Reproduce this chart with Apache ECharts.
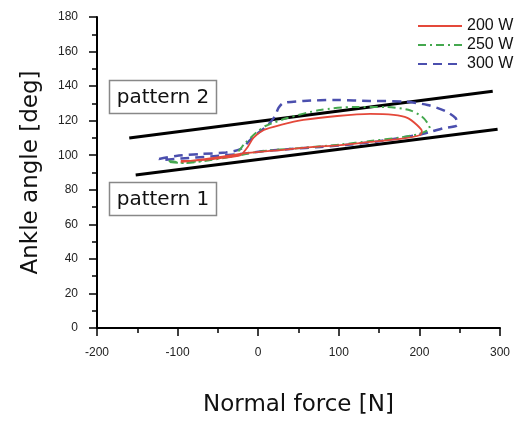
<!DOCTYPE html>
<html>
<head>
<meta charset="utf-8">
<script src="https://cdn.jsdelivr.net/npm/echarts@6/dist/echarts.min.js"></script>
<style>html,body{margin:0;padding:0;background:#fff;}#c{width:523px;height:421px;}</style>
</head>
<body>
<div id="c"></div>
<script>
// Normal force [N] and ankle angle [deg] for each loop
const force200 = [-96,-71,-47,-22,-13,-6,7,28,56,98,139,168,185,197,203,201,176,139,102,69,28,-13,-55,-84,-96];
const angle200 = [96.7,97.2,98.4,100.1,104.8,110,114.6,117.5,120.4,122.7,123.9,123.3,121.6,117.5,114,111.7,109.4,107.7,105.9,104.8,103,101.3,98.4,96.7,96.1];

const force250 = [-111,-90,-59,-30,-16,-3,9,36,77,118,160,189,203,210,213,207,197,176,139,102,52,3,-28,-65,-96,-111];
const angle250 = [96.7,95.5,97.2,100.1,107.1,112.9,116.9,121.5,126.2,127.9,127.9,125.9,122.4,118.7,115.5,113.7,112,110.3,108.2,106.2,104.2,102.2,99.6,97.2,95.5,96.1];

const force300 = [-123,-102,-71,-40,-22,-6,12,21,25,31,56,98,139,180,210,232,245,247,229,215,201,180,148,114,77,40,7,-22,-59,-96,-121,-123];
const angle300 = [97.8,99.6,100.7,101.6,103.6,110.6,117.5,122.7,127.3,130.2,131.4,132,131.4,131.1,129.1,125.6,121.5,117.5,115.5,113.7,112,110.3,108,106.2,104.8,103.6,102.4,100.7,99.3,98.1,97.2,97.8];

// Boundary lines between pattern 1 and pattern 2
const upperLineForce = [-160, 291];
const upperLineAngle = [110, 137];
const lowerLineForce = [-152, 297];
const lowerLineAngle = [88.6, 115];

const xTicks = {min: -200, max: 300, interval: 100};
const yTicks = {min: 0, max: 180, interval: 20};
const seriesNames = ['200 W', '250 W', '300 W'];

function zip(a, b) { return a.map((v, i) => [v, b[i]]); }

const chart = echarts.init(document.getElementById('c'), null, {renderer: 'canvas'});
const tickFont = {fontFamily: 'Liberation Sans, Arial, sans-serif', fontSize: 12, color: '#222'};
const titleFont = {fontFamily: 'DejaVu Sans, sans-serif', fontSize: 23, color: '#111'};
const boxFont = 'DejaVu Sans, sans-serif';

chart.setOption({
  animation: false,
  backgroundColor: '#fff',
  grid: {left: 97, right: 23, top: 17, bottom: 93, containLabel: false, outerBoundsMode: 'none'},
  legend: {
    data: seriesNames,
    orient: 'vertical',
    left: 412, top: 13,
    itemWidth: 44, itemHeight: 14, itemGap: 3,
    itemStyle: {opacity: 0},
    textStyle: {fontFamily: 'Liberation Sans, Arial, sans-serif', fontSize: 16, color: '#111'}
  },
  xAxis: {
    type: 'value', min: xTicks.min, max: xTicks.max, interval: xTicks.interval,
    name: 'Normal force [N]', nameLocation: 'middle', nameGap: 66, nameTextStyle: titleFont,
    axisLine: {show: true, onZero: false, lineStyle: {color: '#000', width: 2}},
    axisTick: {show: true, length: 8, lineStyle: {color: '#000', width: 1.5}},
    minorTick: {show: true, splitNumber: 2, length: 5, lineStyle: {color: '#000', width: 1.5}},
    axisLabel: Object.assign({margin: 19}, tickFont),
    splitLine: {show: false}
  },
  yAxis: {
    type: 'value', min: yTicks.min, max: yTicks.max, interval: yTicks.interval,
    name: 'Ankle angle [deg]', nameLocation: 'middle', nameGap: 54, nameTextStyle: titleFont,
    axisLine: {show: true, onZero: false, lineStyle: {color: '#000', width: 2}},
    axisTick: {show: true, length: 8, lineStyle: {color: '#000', width: 1.5}},
    minorTick: {show: true, splitNumber: 2, length: 5, lineStyle: {color: '#000', width: 1.5}},
    axisLabel: Object.assign({margin: 19}, tickFont),
    splitLine: {show: false}
  },
  series: [
    {type: 'line', name: 'upper', data: zip(upperLineForce, upperLineAngle), symbol: 'none', silent: true,
     lineStyle: {color: '#000', width: 3}, z: 1},
    {type: 'line', name: 'lower', data: zip(lowerLineForce, lowerLineAngle), symbol: 'none', silent: true,
     lineStyle: {color: '#000', width: 3}, z: 1},
    {type: 'line', name: seriesNames[2], data: zip(force300, angle300), symbol: 'none', smooth: 0.25,
     itemStyle: {color: '#4b4fae'}, lineStyle: {color: '#4b4fae', width: 2.5, type: [9, 6]}, z: 3},
    {type: 'line', name: seriesNames[1], data: zip(force250, angle250), symbol: 'none', smooth: 0.25,
     itemStyle: {color: '#45a84f'}, lineStyle: {color: '#45a84f', width: 2, type: [8, 4, 2, 4]}, z: 4},
    {type: 'line', name: seriesNames[0], data: zip(force200, angle200), symbol: 'none', smooth: 0.25,
     itemStyle: {color: '#e4483a'}, lineStyle: {color: '#e4483a', width: 1.8}, z: 5}
  ],
  graphic: [
    {type: 'rect', shape: {x: 109.5, y: 80.5, width: 107, height: 33}, style: {fill: '#fff', stroke: '#888', lineWidth: 1.5}},
    {type: 'text', x: 163, y: 98, style: {text: 'pattern 2', fontFamily: boxFont, fontSize: 20, fill: '#111', align: 'center', verticalAlign: 'middle'}},
    {type: 'rect', shape: {x: 109.5, y: 182.5, width: 107, height: 33}, style: {fill: '#fff', stroke: '#888', lineWidth: 1.5}},
    {type: 'text', x: 163, y: 200, style: {text: 'pattern 1', fontFamily: boxFont, fontSize: 20, fill: '#111', align: 'center', verticalAlign: 'middle'}}
  ]
});
</script>
</body>
</html>
